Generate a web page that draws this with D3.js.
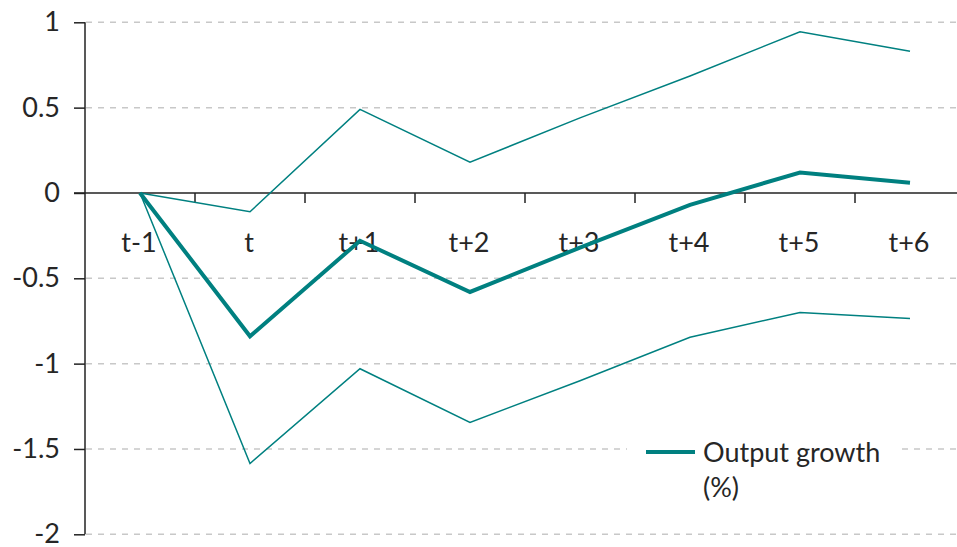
<!DOCTYPE html>
<html>
<head>
<meta charset="utf-8">
<script src="https://cdn.jsdelivr.net/npm/d3@7"></script>
<style>
  body { margin: 0; background: #fff; }
  svg text { font-family: Lato, "Liberation Sans", sans-serif; fill: #262626; }
</style>
</head>
<body>
<div class="chart"></div>
<script>
const periods = ['t-1', 't', 't+1', 't+2', 't+3', 't+4', 't+5', 't+6'];
const outputGrowth = [0, -0.84, -0.28, -0.58, -0.32, -0.07, 0.12, 0.06];
const upperBand = [0, -0.11, 0.49, 0.18, 0.44, 0.685, 0.945, 0.83];
const lowerBand = [0, -1.585, -1.03, -1.345, -1.1, -0.845, -0.70, -0.735];
const yTicks = [-2, -1.5, -1, -0.5, 0, 0.5, 1];

const W = 957, H = 547;
const teal = '#008080';
const fs = 27;

const svg = d3.select('.chart')
  .append('svg')
  .attr('width', W)
  .attr('height', H);

const x = d3.scaleBand().domain(periods).range([85, 965]);
const y = d3.scaleLinear().domain([-2, 1]).range([534.3, 22.3]);
const cx = d => x(d) + x.bandwidth() / 2;

// gridlines
svg.append('g')
  .selectAll('line')
  .data(yTicks.filter(v => v !== 0))
  .join('line')
    .attr('x1', 86).attr('x2', W)
    .attr('y1', d => y(d)).attr('y2', d => y(d))
    .attr('stroke', '#c8c8c8')
    .attr('stroke-width', 1.5)
    .attr('stroke-dasharray', '6,6');

// y axis
const yAxis = svg.append('g')
  .attr('transform', 'translate(85,0)')
  .call(d3.axisLeft(y).tickValues(yTicks).tickSize(11).tickPadding(14)
    .tickFormat(d => String(d)));
yAxis.select('.domain').attr('stroke', '#222').attr('stroke-width', 1.5).attr('d', `M0,${y(1)}V${y(-2)}`);
yAxis.selectAll('.tick line').attr('stroke', '#222').attr('stroke-width', 1.5);
yAxis.selectAll('text').attr('font-size', fs).style('font-family', 'Lato, sans-serif').attr('fill', '#262626');

// x axis at zero
svg.append('line')
  .attr('x1', 74).attr('x2', W)
  .attr('y1', y(0)).attr('y2', y(0))
  .attr('stroke', '#222').attr('stroke-width', 1.5);
svg.append('g')
  .selectAll('line')
  .data(periods.slice(1))
  .join('line')
    .attr('x1', d => x(d)).attr('x2', d => x(d))
    .attr('y1', y(0)).attr('y2', y(0) + 10)
    .attr('stroke', '#222').attr('stroke-width', 1.5);
svg.append('g')
  .selectAll('text')
  .data(periods)
  .join('text')
    .attr('x', d => cx(d) - 1)
    .attr('y', y(0) + 59)
    .attr('text-anchor', 'middle')
    .attr('font-size', fs)
    .text(d => d);

// lines
const line = d3.line()
  .x((d, i) => cx(periods[i]))
  .y(d => y(d));

[[upperBand, 1.5], [lowerBand, 1.5], [outputGrowth, 4]].forEach(([vals, w]) => {
  svg.append('path')
    .datum(vals)
    .attr('fill', 'none')
    .attr('stroke', teal)
    .attr('stroke-width', w)
    .attr('stroke-linejoin', 'miter')
    .attr('d', line);
});

// legend
const lg = svg.append('g');
lg.append('rect')
  .attr('x', 627).attr('y', 428).attr('width', 274).attr('height', 84)
  .attr('fill', '#fff');
lg.append('line')
  .attr('x1', 646).attr('x2', 695).attr('y1', 452).attr('y2', 452)
  .attr('stroke', teal).attr('stroke-width', 4);
lg.append('text').attr('x', 703).attr('y', 462).attr('font-size', fs).text('Output growth');
lg.append('text').attr('x', 703).attr('y', 497).attr('font-size', fs).text('(%)');
</script>
</body>
</html>
